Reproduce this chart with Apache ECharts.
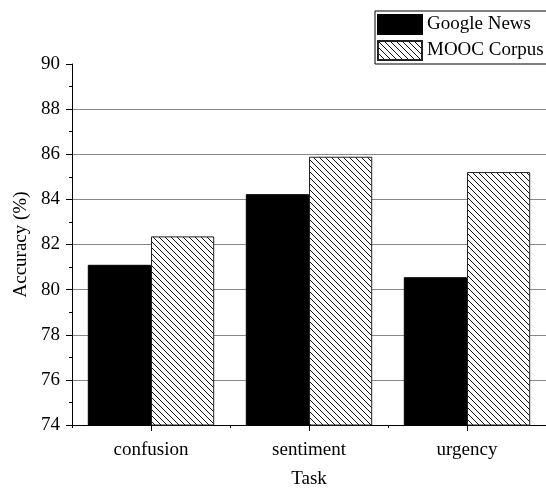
<!DOCTYPE html>
<html>
<head>
<meta charset="utf-8">
<script src="https://cdn.jsdelivr.net/npm/echarts@6/dist/echarts.min.js"></script>
<style>
  html, body { margin: 0; padding: 0; background: #fff; overflow: hidden; }
  #chart { width: 546px; height: 494px; }
</style>
</head>
<body>
<div id="chart"></div>
<script>
// Accuracy per task for two embedding corpora
const tasks = ['confusion', 'sentiment', 'urgency'];
const googleNews = [81.1, 84.23, 80.55];
const moocCorpus = [82.36, 85.89, 85.21];
const seriesNames = ['Google News', 'MOOC Corpus'];

const FONT = 'Liberation Serif, Times New Roman, serif';

// Diagonal "\" hatch tile
function hatchTile(step) {
  const c = document.createElement('canvas');
  c.width = step; c.height = step;
  const ctx = c.getContext('2d');
  ctx.fillStyle = '#fff';
  ctx.fillRect(0, 0, step, step);
  ctx.strokeStyle = '#111';
  ctx.lineWidth = 1;
  ctx.beginPath();
  for (const o of [-step, 0, step]) {
    ctx.moveTo(o, 0);
    ctx.lineTo(o + step, step);
  }
  ctx.stroke();
  return c;
}

const chart = echarts.init(document.getElementById('chart'), null, { renderer: 'canvas' });

chart.setOption({
  backgroundColor: '#fff',
  animation: false,
  textStyle: { fontFamily: FONT, color: '#000' },
  grid: { left: 72, top: 64, width: 481, height: 369, containLabel: false },
  legend: {
    orient: 'vertical',
    left: 375,
    top: 11,
    itemWidth: 44,
    itemHeight: 19,
    itemGap: 5,
    padding: [3, 40, 3, 2],
    borderColor: '#000',
    borderWidth: 1,
    icon: 'rect',
    textStyle: { fontFamily: FONT, fontSize: 19, color: '#000' },
    data: seriesNames
  },
  xAxis: [
    {
      type: 'category',
      data: tasks,
      boundaryGap: true,
      name: 'Task',
      nameLocation: 'middle',
      nameGap: 45,
      nameTextStyle: { fontFamily: FONT, fontSize: 19, color: '#000' },
      axisLine: { show: true, lineStyle: { color: '#000', width: 1 } },
      axisTick: { show: true, alignWithLabel: true, length: 6, lineStyle: { color: '#000' } },
      axisLabel: { fontFamily: FONT, fontSize: 19, color: '#000', margin: 16 },
      splitLine: { show: false }
    },
    {
      // boundary ticks between categories
      type: 'category',
      data: tasks,
      position: 'bottom',
      boundaryGap: true,
      axisLine: { show: false },
      axisTick: { show: true, alignWithLabel: false, length: 3, lineStyle: { color: '#000' } },
      axisLabel: { show: false },
      splitLine: { show: false }
    }
  ],
  yAxis: {
    type: 'value',
    min: 74,
    max: 90,
    interval: 2,
    name: 'Accuracy (%)',
    nameLocation: 'middle',
    nameGap: 38,
    nameTextStyle: { fontFamily: FONT, fontSize: 19, color: '#000' },
    axisLine: { show: true, lineStyle: { color: '#000', width: 1 } },
    axisTick: { show: true, length: 6, lineStyle: { color: '#000' } },
    minorTick: { show: true, splitNumber: 2, length: 3, lineStyle: { color: '#000' } },
    axisLabel: { fontFamily: FONT, fontSize: 19, color: '#000', margin: 12 },
    splitLine: { show: true, showMaxLine: false, lineStyle: { color: '#888', width: 1 } }
  },
  series: [
    {
      name: seriesNames[0],
      type: 'bar',
      data: googleNews,
      barGap: '0%',
      barCategoryGap: '20%',
      itemStyle: { color: '#000', borderColor: '#000', borderWidth: 1 }
    },
    {
      name: seriesNames[1],
      type: 'bar',
      data: moocCorpus,
      barGap: '0%',
      barCategoryGap: '20%',
      itemStyle: {
        color: { image: hatchTile(6), repeat: 'repeat' },
        borderColor: '#222',
        borderWidth: 1
      }
    }
  ]
});
</script>
</body>
</html>
